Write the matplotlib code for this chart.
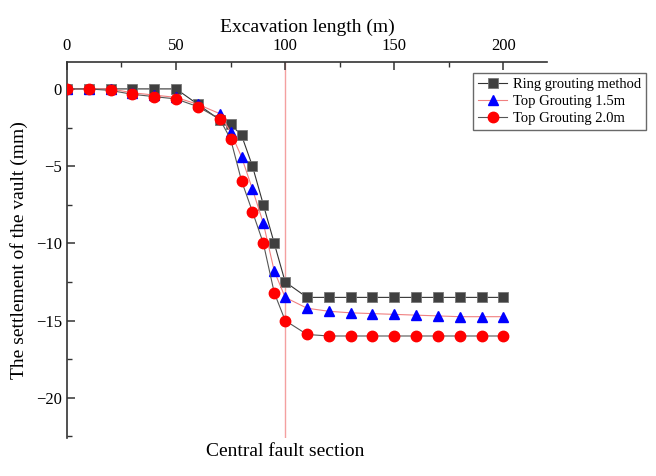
import numpy as np
import matplotlib
matplotlib.use('Agg')
import matplotlib.pyplot as plt
from matplotlib.ticker import MultipleLocator

plt.rcParams['font.family'] = ['Liberation Serif', 'DejaVu Serif']

# excavation length (m)
length = [0, 10, 20, 30, 40, 50, 60, 70, 75, 80, 85, 90, 95, 100,
          110, 120, 130, 140, 150, 160, 170, 180, 190, 200]

ring = [0, 0, 0, 0, 0, 0, -1.0, -2.0, -2.3, -3.0, -5.0, -7.5, -10.0, -12.5,
        -13.5, -13.5, -13.5, -13.5, -13.5, -13.5, -13.5, -13.5, -13.5, -13.5]
top15 = [0, 0, 0, -0.25, -0.4, -0.55, -1.0, -1.6, -2.8, -4.4, -6.5, -8.7, -11.8, -13.5,
         -14.2, -14.4, -14.5, -14.55, -14.6, -14.65, -14.7, -14.75, -14.75, -14.75]
top20 = [0, 0, -0.1, -0.35, -0.5, -0.65, -1.15, -1.95, -3.25, -5.95, -7.95, -10.0, -13.2, -15.0,
         -15.9, -16.0, -16.0, -16.0, -16.0, -16.0, -16.0, -16.0, -16.0, -16.0]

fault_x = 100

fig = plt.figure(figsize=(6.56, 4.76), dpi=100)
ax = fig.add_axes([0.102, 0.080, 0.732, 0.790])

ax.plot(length, ring, color='#333333', lw=0.8, marker='s', ms=6.5,
        mfc='#404040', mec='#777777', mew=0.6, label='Ring grouting method', zorder=3)
ax.plot(length, top15, color='#F08080', lw=0.8, marker='^', ms=7.5,
        mfc='#0000FF', mec='#0000FF', label='Top Grouting 1.5m', zorder=3)
ax.plot(length, top20, color='#555555', lw=0.8, marker='o', ms=7.5,
        mfc='#FF0000', mec='#FF0000', label='Top Grouting 2.0m', zorder=3)

ax.axvline(fault_x, color='#F4A0A0', lw=1.0, zorder=1)

ax.set_xlim(0, 220)
ax.set_ylim(-22.6, 1.75)

ax.spines['right'].set_visible(False)
ax.spines['bottom'].set_visible(False)
for s in ['top', 'left']:
    ax.spines[s].set_color('#333333')
    ax.spines[s].set_linewidth(1.2)

ax.xaxis.tick_top()
ax.xaxis.set_label_position('top')
ax.xaxis.set_major_locator(MultipleLocator(50))
ax.xaxis.set_minor_locator(MultipleLocator(25))
ax.set_xticks([0, 50, 100, 150, 200])
ax.yaxis.set_major_locator(MultipleLocator(5))
ax.yaxis.set_minor_locator(MultipleLocator(2.5))
ax.tick_params(which='both', direction='in', labelsize=12, color='#333333')
ax.tick_params(which='major', length=6, width=1.1)
ax.tick_params(which='minor', length=3.5, width=1.0)
ax.tick_params(axis='x', pad=6)

ax.set_xlabel('Excavation length (m)', fontsize=14, labelpad=4)
ax.set_ylabel('The settlement of the vault (mm)', fontsize=14, labelpad=6)

ax.text(fault_x, -22.9, 'Central fault section', ha='center', va='top', fontsize=14)

ax.legend(loc='upper left', bbox_to_anchor=(473 / 656, 1 - 73 / 476),
          bbox_transform=fig.transFigure, fontsize=10.5, frameon=True,
          fancybox=False, edgecolor='#444444', handlelength=2.0,
          borderpad=0.35, labelspacing=0.25, handletextpad=0.4, borderaxespad=0)

fig.savefig('out.png', dpi=100)
